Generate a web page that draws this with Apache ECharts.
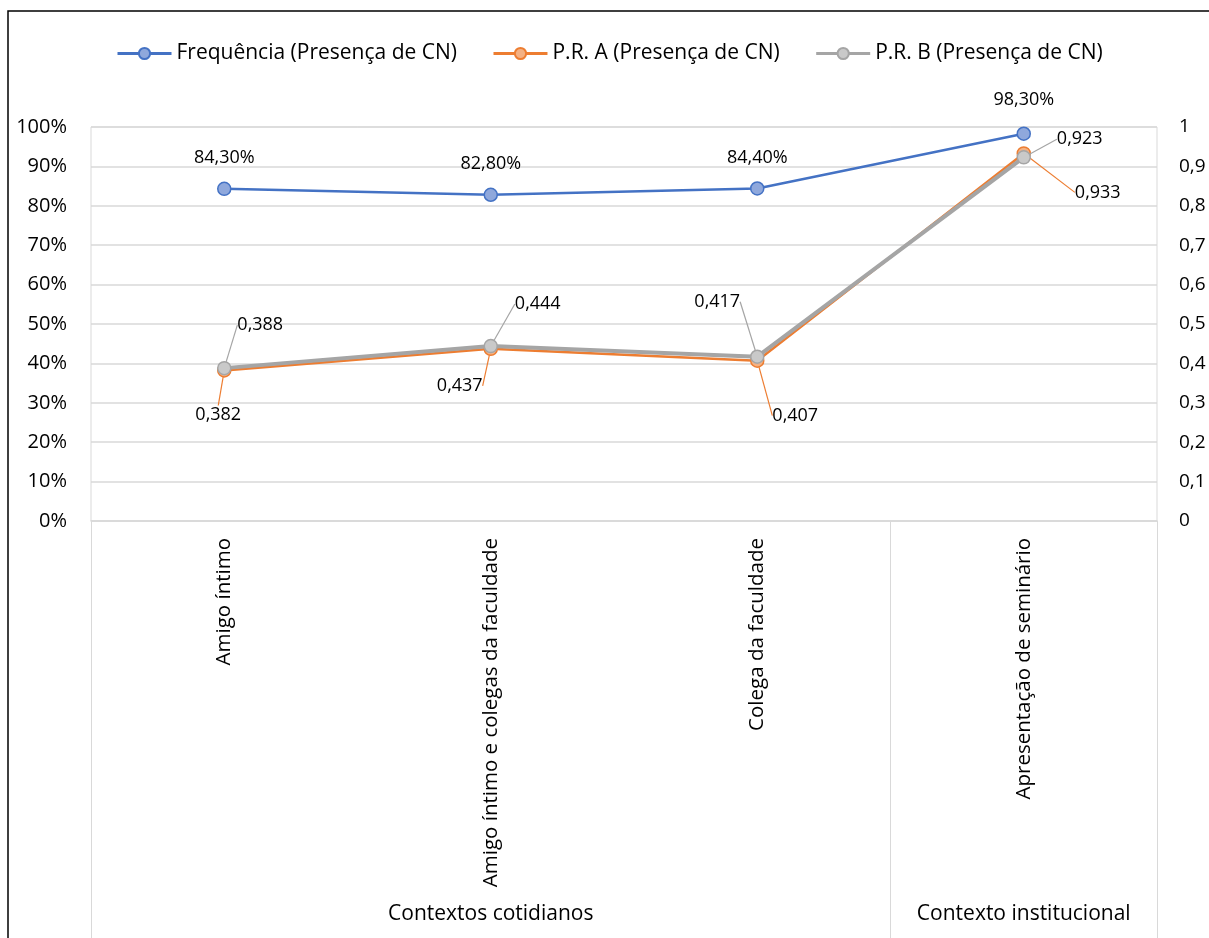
<!DOCTYPE html>
<html>
<head>
<meta charset="utf-8">
<script src="https://cdn.jsdelivr.net/npm/echarts@6/dist/echarts.min.js"></script>
<style>
html,body{margin:0;padding:0;background:#fff;}
#chart{width:1209px;height:938px;}
</style>
</head>
<body>
<div id="chart"></div>
<script>
// ---- data ----
const categories = ['Amigo íntimo', 'Amigo íntimo e colegas da faculdade', 'Colega da faculdade', 'Apresentação de seminário'];
const groupLabels = ['Contextos cotidianos', 'Contexto institucional'];
const seriesNames = ['Frequência (Presença de CN)', 'P.R. A (Presença de CN)', 'P.R. B (Presença de CN)'];
const frequencia = [0.843, 0.828, 0.844, 0.983];
const prA = [0.382, 0.437, 0.407, 0.933];
const prB = [0.388, 0.444, 0.417, 0.923];

// ---- label offsets (layout only) ----
const offFreq = [[0, -31], [0, -31], [0, -31], [0, -34]];
const offA = [[-6, 44], [-31, 37], [38, 55], [74, 39]];
const offB = [[36, -43], [47, -42], [-40, -55], [56, -18]];

const FONT = 'Open Sans';
const chart = echarts.init(document.getElementById('chart'), null, {renderer: 'canvas'});

function layoutFrom(offs) {
  return function (p) {
    const cx = p.rect.x + p.rect.width / 2;
    const cy = p.rect.y + p.rect.height / 2;
    const o = offs[p.dataIndex];
    return {x: cx + o[0], y: cy + o[1], align: 'center', verticalAlign: 'middle'};
  };
}
const comma = s => s.replace('.', ',');

const option = {
  backgroundColor: '#fff',
  textStyle: {fontFamily: FONT, color: '#000'},
  animation: false,
  graphic: [{
    type: 'rect', silent: true, z: 100,
    shape: {x: 8, y: 11, width: 1260, height: 1000},
    style: {fill: 'none', stroke: '#000', lineWidth: 1.5}
  }],
  legend: {
    top: 38, left: 111, itemWidth: 54, itemHeight: 14, itemGap: 35,
    lineStyle: {width: 3},
    textStyle: {fontFamily: FONT, fontSize: 21, color: '#000'},
    data: seriesNames
  },
  grid: {left: 91, right: 52, top: 127, bottom: 417, show: true, borderColor: '#D9D9D9', borderWidth: 1, containLabel: false},
  xAxis: [{
    type: 'category', data: categories, boundaryGap: true,
    axisLine: {show: true, lineStyle: {color: '#D9D9D9', width: 1.5}},
    axisTick: {show: false},
    axisLabel: {rotate: 90, margin: 17, fontFamily: FONT, fontSize: 20.5, color: '#000'}
  }, {
    type: 'value', min: 0, max: 4, position: 'bottom',
    axisLine: {show: false}, splitLine: {show: false},
    axisTick: {show: true, customValues: [0, 3, 4], length: 417, lineStyle: {color: '#D9D9D9', width: 1}},
    axisLabel: {customValues: [1.5, 3.5], margin: 383, fontFamily: FONT, fontSize: 21, color: '#000',
      formatter: v => (v < 3 ? groupLabels[0] : groupLabels[1])}
  }],
  yAxis: [{
    type: 'value', min: 0, max: 1, interval: 0.1, position: 'left',
    axisLine: {show: false}, axisTick: {show: false},
    splitLine: {show: true, lineStyle: {color: '#D9D9D9', width: 1.5}},
    axisLabel: {margin: 24, fontFamily: FONT, fontSize: 20, color: '#000',
      formatter: v => Math.round(v * 100) + '%'}
  }, {
    type: 'value', min: 0, max: 1, interval: 0.1, position: 'right',
    axisLine: {show: false}, axisTick: {show: false}, splitLine: {show: false},
    axisLabel: {margin: 22, fontFamily: FONT, fontSize: 19, color: '#000', align: 'left',
      formatter: v => comma(String(+v.toFixed(1)))}
  }],
  series: [{
    name: seriesNames[0], type: 'line', yAxisIndex: 0, data: frequencia,
    symbol: 'circle', symbolSize: 13, z: 5,
    lineStyle: {color: '#4472C4', width: 2.5},
    itemStyle: {color: '#8FA8DC', borderColor: '#4472C4', borderWidth: 1.5},
    label: {show: true, fontFamily: FONT, fontSize: 18, color: '#000',
      formatter: p => comma((p.value * 100).toFixed(2)) + '%'},
    labelLayout: layoutFrom(offFreq)
  }, {
    name: seriesNames[1], type: 'line', yAxisIndex: 1, data: prA,
    symbol: 'circle', symbolSize: 13, z: 3,
    lineStyle: {color: '#ED7D31', width: 2.5},
    itemStyle: {color: '#F4B183', borderColor: '#ED7D31', borderWidth: 1.5},
    label: {show: true, fontFamily: FONT, fontSize: 18, color: '#000',
      formatter: p => comma(p.value.toFixed(3))},
    labelLine: {show: true, lineStyle: {color: '#ED7D31', width: 1.2}},
    labelLayout: layoutFrom(offA)
  }, {
    name: seriesNames[2], type: 'line', yAxisIndex: 1, data: prB,
    symbol: 'circle', symbolSize: 13, z: 4,
    lineStyle: {color: '#A5A5A5', width: 4},
    itemStyle: {color: '#C9C9C9', borderColor: '#A5A5A5', borderWidth: 1.5},
    label: {show: true, fontFamily: FONT, fontSize: 18, color: '#000',
      formatter: p => comma(p.value.toFixed(3))},
    labelLine: {show: true, lineStyle: {color: '#A5A5A5', width: 1.2}},
    labelLayout: layoutFrom(offB)
  }]
};
chart.setOption(option);
</script>
</body>
</html>
